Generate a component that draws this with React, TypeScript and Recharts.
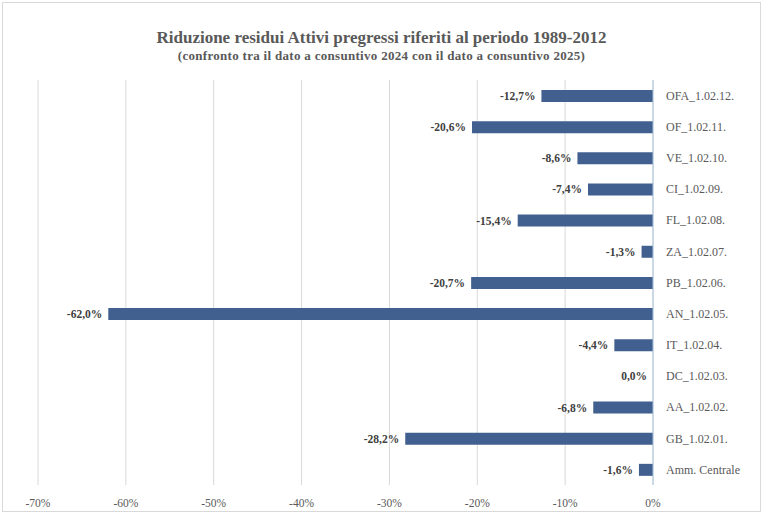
import { BarChart, Bar, XAxis, YAxis, CartesianGrid, LabelList, Cell } from "recharts"

const categories = [
    "OFA_1.02.12.",
    "OF_1.02.11.",
    "VE_1.02.10.",
    "CI_1.02.09.",
    "FL_1.02.08.",
    "ZA_1.02.07.",
    "PB_1.02.06.",
    "AN_1.02.05.",
    "IT_1.02.04.",
    "DC_1.02.03.",
    "AA_1.02.02.",
    "GB_1.02.01.",
    "Amm. Centrale",
]
const riduzione = [-12.7, -20.6, -8.6, -7.4, -15.4, -1.3, -20.7, -62.0, -4.4, 0.0, -6.8, -28.2, -1.6]
const xTicks = [-70, -60, -50, -40, -30, -20, -10, 0]

const data = categories.map((name, i) => ({ name, value: riduzione[i] }))

const TEXT = "#595959"
const BAR = "#41608f"
const FONT = "'Liberation Serif', 'Times New Roman', serif"

const fmtPct = (v: number) => v.toFixed(1).replace(".", ",") + "%"

// label sits just left of the bar's end
const ValueLabel = (props: any) => {
    const { x, y, width, height, value } = props
    const left = Math.min(x, x + width)
    return (
        <text x={left - 6} y={y + height / 2} dy={4} textAnchor="end"
            fontSize={11.5} fontWeight="bold" fill="#404040" fontFamily={FONT}>
            {fmtPct(value)}
        </text>
    )
}

export default function App() {
    return (
        <div style={{ position: "absolute", left: 0, top: 0, width: 763, height: 514, background: "#fff", fontFamily: FONT }}>
            <div style={{ position: "absolute", left: 2, top: 2, width: 757, height: 508, border: "1px solid #d9d9d9" }} />
            <div style={{
                position: "absolute", top: 28, width: "100%", textAlign: "center",
                fontSize: 17, fontWeight: "bold", color: TEXT
            }}>
                Riduzione residui Attivi pregressi riferiti al periodo 1989-2012
            </div>
            <div style={{
                position: "absolute", top: 48, width: "100%", textAlign: "center",
                fontSize: 13, letterSpacing: 0.3, fontWeight: "bold", color: TEXT
            }}>
                (confronto tra il dato a consuntivo 2024 con il dato a consuntivo 2025)
            </div>
            <div style={{ position: "absolute", left: 0, top: 0 }}>
                <BarChart width={763} height={514} data={data} layout="vertical"
                    margin={{ top: 80, right: 0, left: 38, bottom: 0 }}>
                    <CartesianGrid horizontal={false} stroke="#d9d9d9" />
                    <XAxis type="number" domain={[-70, 0]} ticks={xTicks} allowDataOverflow
                        tickFormatter={(v: number) => v + "%"} height={29}
                        axisLine={false} tickLine={false} tickMargin={8}
                        tick={{ fontSize: 11.5, fill: TEXT, fontFamily: FONT }} />
                    <YAxis type="category" dataKey="name" orientation="right" width={110}
                        axisLine={{ stroke: "#a9c4e0" }} tickLine={false} tickSize={0} tickMargin={13}
                        interval={0}
                        tick={{ fontSize: 12, fill: TEXT, fontFamily: FONT, textAnchor: "start" }} />
                    <Bar dataKey="value" fill={BAR} barSize={12} minPointSize={1} isAnimationActive={false}>
                        {data.map((d) => (
                            <Cell key={d.name} fill={d.value === 0 ? "transparent" : BAR} />
                        ))}
                        <LabelList dataKey="value" content={ValueLabel} />
                    </Bar>
                </BarChart>
            </div>
        </div>
    )
}
